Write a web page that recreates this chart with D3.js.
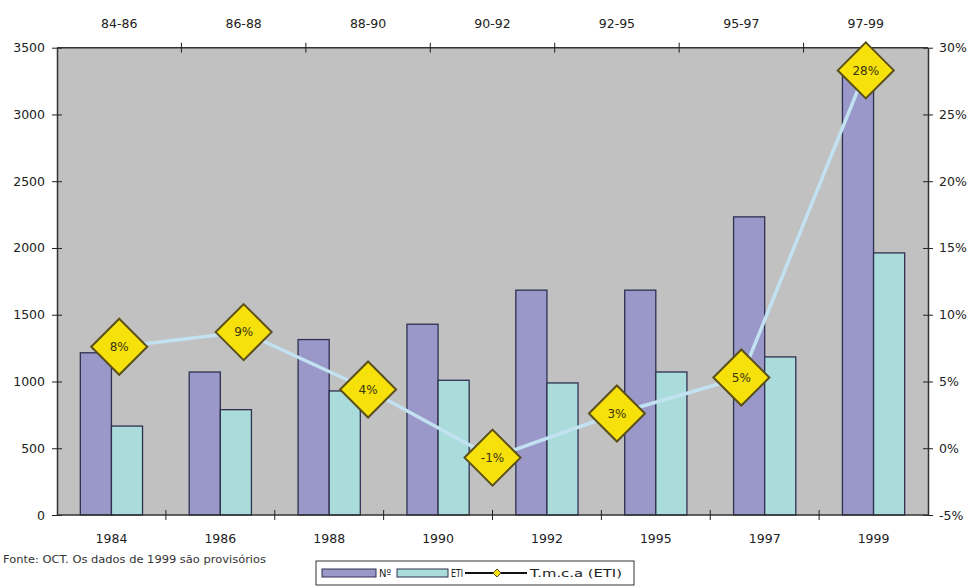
<!DOCTYPE html>
<html><head><meta charset="utf-8">
<script src="https://cdn.jsdelivr.net/npm/d3@7"></script>
<style>
html,body{margin:0;padding:0;background:#fff;}
svg text{font-family:"DejaVu Sans",Verdana,sans-serif;fill:#222;}
</style></head>
<body><svg id="c" width="969" height="587"></svg>
<script>
const years = ["1984","1986","1988","1990","1992","1995","1997","1999"];
const numValues = [1215, 1071, 1314, 1429, 1684, 1684, 2233, 3290];
const etiValues = [666, 789, 929, 1009, 989, 1071, 1184, 1963];
const periods = ["84-86","86-88","88-90","90-92","92-95","95-97","97-99"];
const rateValues = [7.6, 8.7, 4.4, -0.7, 2.6, 5.3, 28.3];
const leftTicks = [0,500,1000,1500,2000,2500,3000,3500];
const rightTicks = [-5,0,5,10,15,20,25,30];
const seriesNames = ["Nº","ETI","T.m.c.a (ETI)"];
const footnote = "Fonte: OCT. Os dados de 1999 são provisórios";

const L=57, R=928, T=47.7, B=515;
const svg=d3.select("#c");
const x=d3.scaleBand().domain(years).range([L,R]);
const xTop=d3.scaleBand().domain(periods).range([L,R]);
const y=d3.scaleLinear().domain([0,3500]).range([B,T]);
const y2=d3.scaleLinear().domain([-5,30]).range([B,T]);
const inner=d3.scaleBand().domain(["n","e"]).range([0,x.bandwidth()]).paddingInner(0).paddingOuter(0.75);

svg.append("rect").attr("x",L).attr("y",T).attr("width",R-L).attr("height",B-T).attr("fill","#c0c1c0");

const colN="#9a97c9", colE="#a9dcdb", edge="#2e3050";
svg.append("g").selectAll("rect").data(years).join("rect")
 .attr("x",d=>x(d)+inner("n")).attr("width",inner.bandwidth())
 .attr("y",(d,i)=>y(numValues[i])).attr("height",(d,i)=>B-y(numValues[i]))
 .attr("fill",colN).attr("stroke",edge).attr("stroke-width",1.3);
svg.append("g").selectAll("rect").data(years).join("rect")
 .attr("x",d=>x(d)+inner("e")).attr("width",inner.bandwidth())
 .attr("y",(d,i)=>y(etiValues[i])).attr("height",(d,i)=>B-y(etiValues[i]))
 .attr("fill",colE).attr("stroke",edge).attr("stroke-width",1.3);

function crossTicks(g){g.selectAll(".tick line").attr("stroke","#222");g.select(".domain").attr("stroke","#333").attr("stroke-width",1.5);}
const fs="12.5px";
svg.append("g").attr("transform",`translate(${L},0)`)
 .call(d3.axisLeft(y).tickValues(leftTicks).tickFormat(d3.format("d")).tickSize(5).tickSizeOuter(0).tickPadding(7))
 .call(g=>{crossTicks(g);g.selectAll(".tick line").attr("x1",5);g.selectAll("text").style("font-size",fs);});
svg.append("g").attr("transform",`translate(${R},0)`)
 .call(d3.axisRight(y2).tickValues(rightTicks).tickFormat(d=>d+"%").tickSize(5).tickSizeOuter(0).tickPadding(6))
 .call(g=>{crossTicks(g);g.selectAll(".tick line").attr("x1",-5);g.selectAll("text").style("font-size",fs);});
const bg=svg.append("g").attr("transform",`translate(0,${B})`);
bg.append("line").attr("x1",L).attr("x2",R).attr("stroke","#333").attr("stroke-width",1.5);
bg.selectAll("line.t").data(years.slice(1)).join("line").attr("class","t")
 .attr("x1",d=>x(d)).attr("x2",d=>x(d)).attr("y1",-5).attr("y2",5).attr("stroke","#222");
bg.selectAll("text").data(years).join("text").attr("x",d=>x(d)+x.bandwidth()/2).attr("y",28)
 .attr("text-anchor","middle").style("font-size",fs).text(d=>d);
const tg=svg.append("g").attr("transform",`translate(0,${T})`);
tg.append("line").attr("x1",L).attr("x2",R).attr("stroke","#333").attr("stroke-width",1.5);
tg.selectAll("line.t").data(periods.slice(1)).join("line").attr("class","t")
 .attr("x1",d=>xTop(d)).attr("x2",d=>xTop(d)).attr("y1",-5).attr("y2",5).attr("stroke","#222");
tg.selectAll("text").data(periods).join("text").attr("x",d=>xTop(d)+xTop.bandwidth()/2).attr("y",-20)
 .attr("text-anchor","middle").style("font-size",fs).text(d=>d);

const line=d3.line().x((d,i)=>xTop(periods[i])+xTop.bandwidth()/2).y(d=>y2(d));
svg.append("path").datum(rateValues).attr("d",line).attr("fill","none").attr("stroke","#c2e2f2").attr("stroke-width",3.5);
const mk=svg.append("g").selectAll("g").data(rateValues).join("g")
 .attr("transform",(d,i)=>`translate(${xTop(periods[i])+xTop.bandwidth()/2},${y2(d)})`);
const s=28;
mk.append("path").attr("d",`M0,${-s}L${s},0L0,${s}L${-s},0Z`).attr("fill","#f6e10a").attr("stroke","#5a4f1a").attr("stroke-width",2);
mk.append("text").attr("text-anchor","middle").attr("dy","0.35em").style("font-size","12px").style("fill","#3a3410")
 .text(d=>Math.round(d)+"%");

svg.append("text").attr("x",3).attr("y",563).style("font-size","10.5px").style("fill","#333")
 .attr("textLength",263).attr("lengthAdjust","spacingAndGlyphs").text(footnote);

const lg=svg.append("g");
lg.append("rect").attr("x",316).attr("y",561).attr("width",318).attr("height",24).attr("fill","#fff").attr("stroke","#333").attr("stroke-width",1);
const ly=573;
lg.append("rect").attr("x",322).attr("y",ly-4).attr("width",54).attr("height",8).attr("fill",colN).attr("stroke",edge);
lg.append("text").attr("x",379).attr("y",ly).attr("dy","0.35em").style("font-size","10px").text(seriesNames[0]);
lg.append("rect").attr("x",397).attr("y",ly-4).attr("width",51).attr("height",8).attr("fill",colE).attr("stroke",edge);
lg.append("text").attr("x",451).attr("y",ly).attr("dy","0.35em").style("font-size","10px").attr("textLength",12).attr("lengthAdjust","spacingAndGlyphs").text(seriesNames[1]);
lg.append("line").attr("x1",465).attr("x2",527).attr("y1",ly).attr("y2",ly).attr("stroke","#111").attr("stroke-width",2);
lg.append("path").attr("d",`M497,${ly-4}L501,${ly}L497,${ly+4}L493,${ly}Z`).attr("fill","#f6e10a").attr("stroke","#5a4f1a");
lg.append("text").attr("x",530).attr("y",ly).attr("dy","0.35em").style("font-size","10.5px").attr("textLength",92).attr("lengthAdjust","spacingAndGlyphs").text(seriesNames[2]);
</script></body></html>
